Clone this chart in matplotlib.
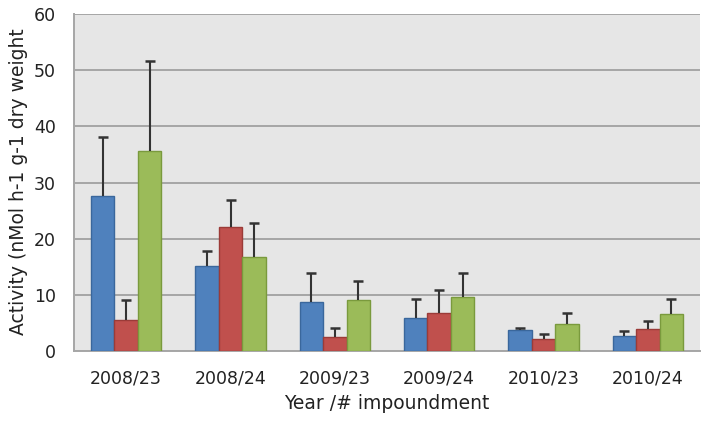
import numpy as np
import matplotlib
matplotlib.use("Agg")
import matplotlib.pyplot as plt

categories = ['2008/23', '2008/24', '2009/23', '2009/24', '2010/23', '2010/24']
blue_vals = [27.6, 15.1, 8.7, 5.8, 3.7, 2.7]
blue_err = [10.5, 2.7, 5.2, 3.4, 0.4, 0.9]
red_vals = [5.5, 22.1, 2.5, 6.7, 2.1, 3.9]
red_err = [3.6, 4.7, 1.6, 4.1, 1.0, 1.4]
green_vals = [35.6, 16.8, 9.1, 9.6, 4.8, 6.5]
green_err = [16.0, 6.0, 3.4, 4.3, 1.9, 2.7]

series = [
    (blue_vals, blue_err, '#4F81BD', '#3A679C'),
    (red_vals, red_err, '#C0504D', '#9B3B38'),
    (green_vals, green_err, '#9BBB59', '#7A9A3D'),
]

fig = plt.figure(figsize=(7.09, 4.21), dpi=100)
ax = fig.add_axes([0.1044, 0.1663, 0.8829, 0.8004])
ax.set_facecolor('#E6E6E6')

x = np.arange(len(categories))
w = 0.225
for k, (vals, err, fc, ec) in enumerate(series):
    pos = x + (k - 1) * w
    vals = np.array(vals)
    tops = vals + np.array(err)
    ax.bar(pos, vals, w, color=fc, edgecolor=ec, linewidth=1, zorder=3)
    # one-sided error bars: stem + cap at top only
    ax.vlines(pos, vals, tops, color='#333333', linewidth=1.5, zorder=4)
    ax.plot(pos, tops, '_', color='#333333', ms=7, mew=1.8, zorder=4)

ax.set_xlim(-0.5, 5.5)
ax.set_ylim(0, 60)
ax.set_yticks(range(0, 61, 10))
ax.set_xticks(x)
ax.set_xticklabels(categories)
ax.yaxis.grid(True, color='#A6A6A6', linewidth=1.4, zorder=0)
ax.set_axisbelow(True)
ax.tick_params(axis='both', length=0, labelsize=12.5, colors='#222222', pad=13)

for s in ['top', 'right']:
    ax.spines[s].set_visible(False)
for s in ['left', 'bottom']:
    ax.spines[s].set_color('#A6A6A6')
    ax.spines[s].set_linewidth(1.4)

ax.set_xlabel('Year /# impoundment', fontsize=13.5, color='#222222', labelpad=5)
ax.set_ylabel('Activity (nMol h-1 g-1 dry weight', fontsize=13.5, color='#222222')
ax.yaxis.set_label_coords(-0.074, 0.503)

fig.savefig('out.png', dpi=100)
